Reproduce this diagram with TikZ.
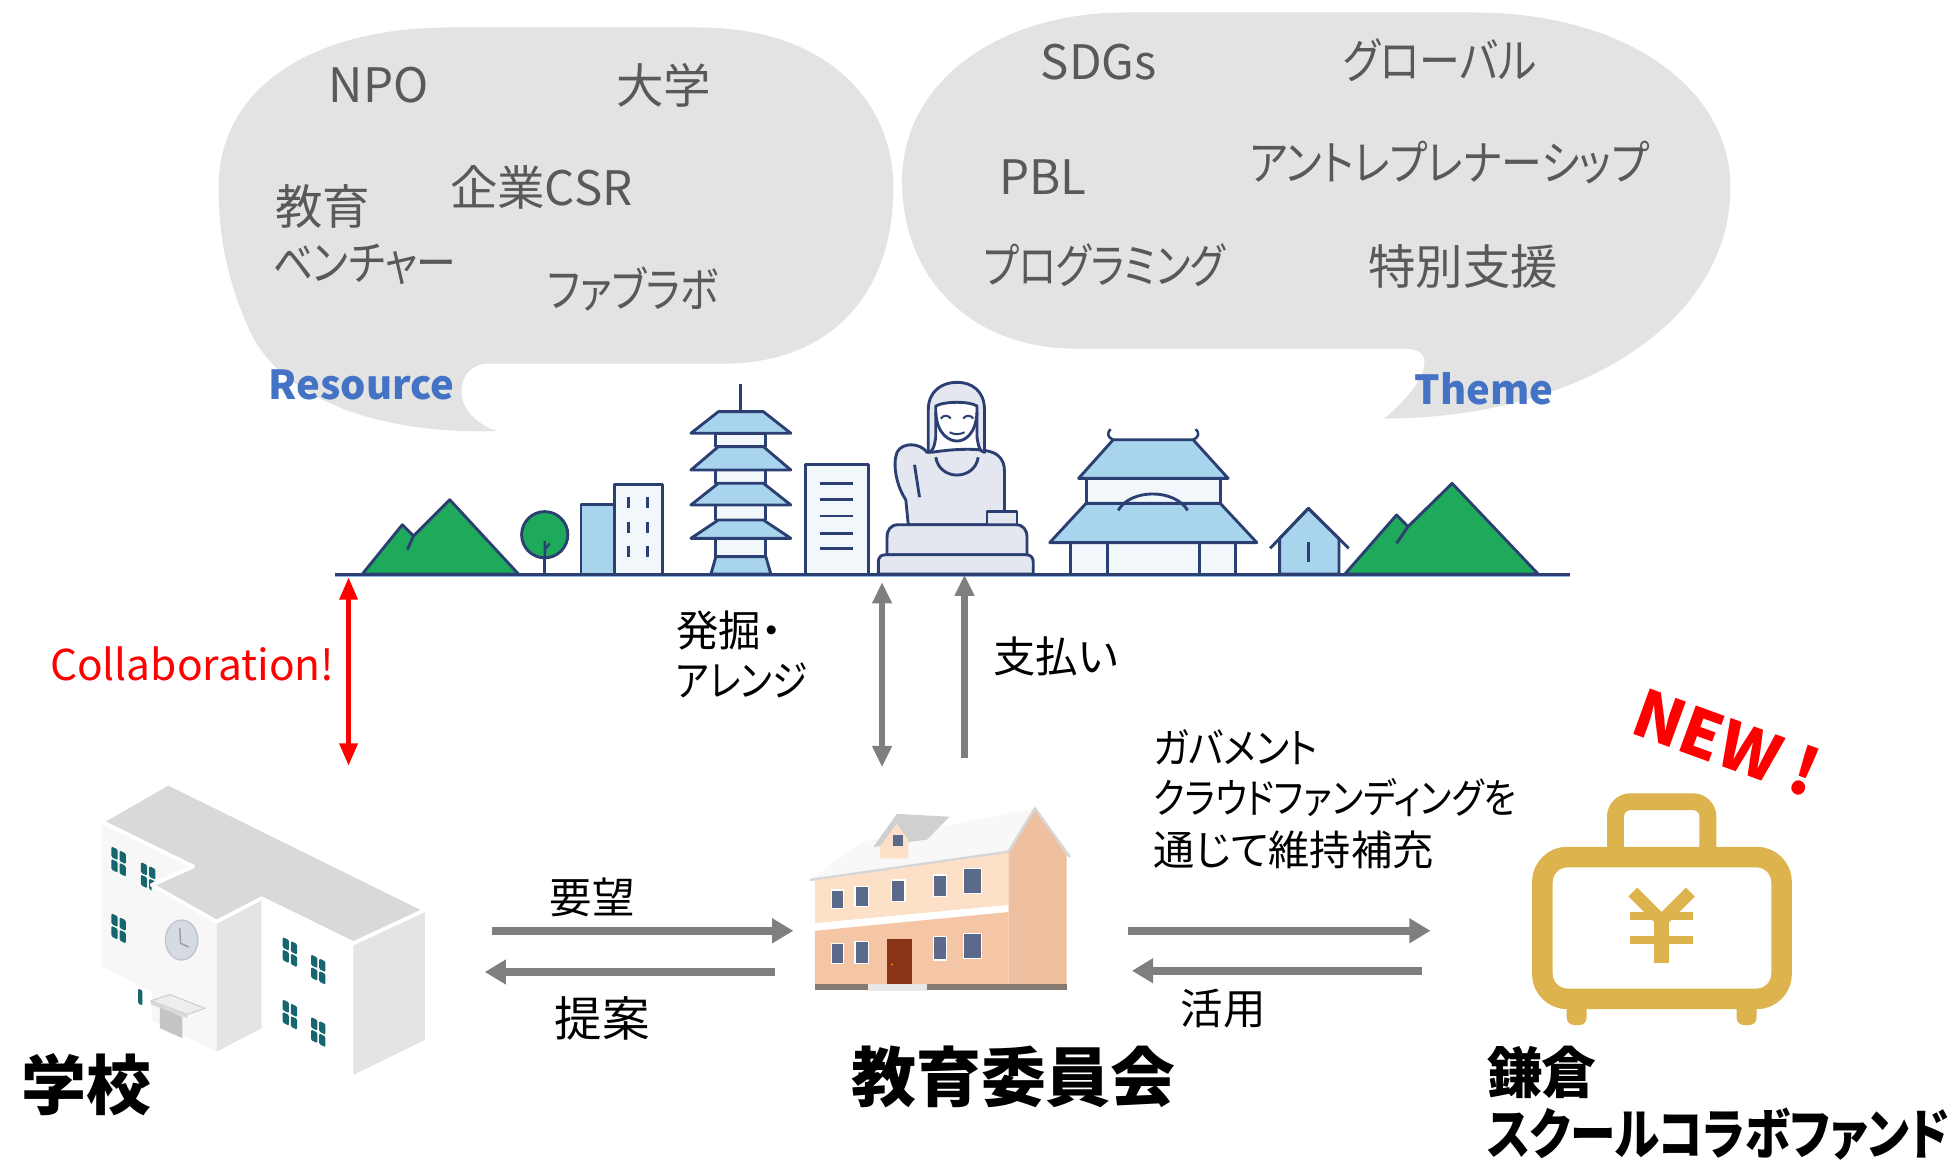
\documentclass[tikz,border=0pt]{standalone}
\usepackage{fontspec}
\usepackage{graphicx}
\usetikzlibrary{arrows.meta}
\newfontfamily\jp{Noto Sans CJK JP}[RawFeature=+palt]
% horizontally condensed text
\newcommand{\hsq}[2]{\scalebox{#1}[1]{#2}}
\definecolor{bubgray}{HTML}{E3E3E3}
\definecolor{bubtext}{HTML}{595959}
\definecolor{resblue}{HTML}{4472C4}
\definecolor{navy}{HTML}{2B3F73}
\definecolor{skyfill}{HTML}{A9D4EE}
\definecolor{paleblue}{HTML}{F2F7FC}
\definecolor{stone}{HTML}{E4E7F0}
\definecolor{hill}{HTML}{1EAA5A}
\definecolor{groundblue}{HTML}{8FB4E3}
\definecolor{arrowgray}{HTML}{7F7F7F}
\definecolor{gold}{HTML}{DDB34D}
\definecolor{winteal}{HTML}{17656F}
\definecolor{roofgray}{HTML}{D9D9D9}
\definecolor{sidegray}{HTML}{E4E4E4}
\definecolor{facewhite}{HTML}{F7F7F7}
\definecolor{clockface}{HTML}{D6DAE2}
\definecolor{clockrim}{HTML}{BEC4CE}
\definecolor{clockhand}{HTML}{969EAC}
\definecolor{doorgray}{HTML}{C4C4C4}
\definecolor{canopy}{HTML}{EEEEEE}
\definecolor{canopyedge}{HTML}{CDCDCD}
\definecolor{canopyfront}{HTML}{D7D7D7}
\definecolor{peachup}{HTML}{FCE0C8}
\definecolor{peachlow}{HTML}{F4C6A6}
\definecolor{peachside}{HTML}{EFC09F}
\definecolor{roofwhite}{HTML}{F8F8F8}
\definecolor{trimgray}{HTML}{D7D7D7}
\definecolor{dormerroof}{HTML}{D0D0D0}
\definecolor{slate}{HTML}{5B6A8A}
\definecolor{doorbrown}{HTML}{8A3417}
\definecolor{basegray}{HTML}{857A72}
\definecolor{steps}{HTML}{E8E8E8}
\begin{document}
\begin{tikzpicture}[x=1pt,y=-1pt,
  bubtxt/.style={anchor=west,inner sep=0pt,text=bubtext,font=\jp\fontsize{38}{40}\selectfont},
  tagtxt/.style={anchor=west,inner sep=0pt,text=resblue,font=\jp\bfseries\fontsize{32}{34}\selectfont},
  lbl/.style={anchor=west,inner sep=0pt,text=black,font=\jp\fontsize{34}{36}\selectfont},
  titletxt/.style={anchor=west,inner sep=0pt,text=black,font=\jp\bfseries\fontsize{52}{54}\selectfont},
  fundtxt/.style={anchor=west,inner sep=0pt,text=black,font=\jp\bfseries\fontsize{44}{46}\selectfont},
  outl/.style={draw=navy,line width=2.3pt,line join=round},
  flow/.style={draw=arrowgray,line width=6pt,-{Triangle[width=19pt,length=17pt]}},
  vflow/.style={draw=arrowgray,line width=5pt,-{Triangle[width=15pt,length=17pt]}},
  vflowboth/.style={draw=arrowgray,line width=5pt,{Triangle[width=15pt,length=17pt]}-{Triangle[width=15pt,length=17pt]}},
  collab/.style={draw=red,line width=4pt,{Triangle[width=14pt,length=18pt]}-{Triangle[width=14pt,length=18pt]}},
  schoolwin/.pic={
    \fill[winteal,rounded corners=1pt] (0,0) rectangle (5,8.5) (6.5,0) rectangle (11.5,8.5)
      (0,10) rectangle (5,18.5) (6.5,10) rectangle (11.5,18.5);
  }
]
\useasboundingbox (0,0) rectangle (1568,933);
\fill[white] (0,0) rectangle (1568,933);

% ---------- speech bubbles ----------
\fill[bubgray] (398,345) .. controls (300,348) and (225,318) .. (200,265)
  .. controls (182,225) and (175,190) .. (175,150)
  .. controls (175,70) and (250,22) .. (360,22) -- (560,22)
  .. controls (660,22) and (715,80) .. (715,150)
  .. controls (715,240) and (660,291) .. (580,291) -- (390,291)
  .. controls (370,292) and (366,312) .. (372,325)
  .. controls (378,336) and (390,343) .. (398,345) -- cycle;
\fill[bubgray] (1108,335) .. controls (1128,318) and (1142,300) .. (1140,287)
  .. controls (1139,282) and (1133,279) .. (1122,279) -- (860,279)
  .. controls (780,279) and (722,225) .. (722,145)
  .. controls (722,65) and (800,10) .. (900,10) -- (1180,10)
  .. controls (1300,10) and (1385,70) .. (1385,150)
  .. controls (1385,260) and (1260,335) .. (1108,335) -- cycle;

\node[bubtxt] (npo) at (263,68) {NPO};
\node[bubtxt] (univ) at (493,68) {大学};
\node[bubtxt] (edu) at (220,165) {教育};
\node[bubtxt] (csr) at (360,150) {企業CSR};
\node[bubtxt] (venture) at (218,212) {\hsq{0.84}{ベンチャー}};
\node[bubtxt] (fablab) at (438,231) {\hsq{0.83}{ファブラボ}};
\node[tagtxt] (resource) at (215,308) {Resource};

\node[bubtxt] (sdgs) at (833,50) {SDGs};
\node[bubtxt] (global) at (1075,48) {\hsq{0.86}{グローバル}};
\node[bubtxt] (pbl) at (800,142) {PBL};
\node[bubtxt] (entre) at (1000,130) {\hsq{0.86}{アントレプレナーシップ}};
\node[bubtxt] (prog) at (787,212) {\hsq{0.81}{プログラミング}};
\node[bubtxt] (special) at (1095,213) {特別支援};
\node[tagtxt] (theme) at (1132,311) {Theme};

% ---------- town skyline ----------
% left hills
\filldraw[outl,fill=hill] (290,459.5) -- (322,420) -- (331,429) -- (360,400) -- (415,459.5) -- cycle;
\draw[outl] (331,429) -- (326,440);
% tree
\filldraw[outl,fill=hill] (436,428) circle (18.5);
\draw[outl] (436,446.5) -- (436,459.5);
\draw[outl,line width=1.8pt] (436,446) -- (436,433) (436,440) -- (440,435);
% low blocks
\filldraw[outl,fill=skyfill] (465,404) rectangle (494,459.5);
\filldraw[outl,fill=paleblue] (492,388) rectangle (530,459.5);
\draw[outl] (503,398) -- (503,407) (518,398) -- (518,407)
            (503,418) -- (503,427) (518,418) -- (518,427)
            (503,437) -- (503,446) (518,437) -- (518,446);
% pagoda
\draw[outl] (593,307) -- (593,330);
\foreach \yt/\yb/\yn in {329.5/346.8/357.5, 357.5/376.2/386.8, 386.8/404.2/416.2, 416.2/430.9/445.6}{
  \filldraw[outl,fill=paleblue] (573,\yb) rectangle (613,\yn);
  \filldraw[outl,fill=skyfill] (575,\yt) -- (611,\yt) -- (633,\yb) -- (553,\yb) -- cycle;
}
\filldraw[outl,fill=skyfill] (573,445.6) -- (613,445.6) -- (617,459.5) -- (569,459.5) -- cycle;
% office block
\filldraw[outl,fill=paleblue] (645,372) rectangle (695,459.5);
\foreach \yy in {387,400,413,427,439}{ \draw[outl] (656,\yy) -- (683,\yy); }
% great buddha
\filldraw[outl,fill=stone] (727,420) -- (725,400) .. controls (718,390) and (714,372) .. (718,362)
  .. controls (722,354) and (736,354) .. (742,362) -- (746,362)
  .. controls (765,359) and (790,358) .. (798,364) .. controls (803,368) and (804,372) .. (804,378)
  -- (804,420) -- cycle;
\filldraw[outl,fill=stone] (743,362) -- (743,328) .. controls (743,313) and (754,306) .. (766,306)
  .. controls (778,306) and (788,313) .. (788,328) -- (788,362)
  .. controls (784,362) and (783,356) .. (782,350) -- (782,325)
  .. controls (776,321) and (756,321) .. (749,325) -- (749,350)
  .. controls (748,356) and (747,362) .. (743,362) -- cycle;
\draw[outl] (749,330) .. controls (750,348) and (760,353) .. (766,353) .. controls (772,353) and (781,348) .. (782,330);
\draw[outl,line width=1.6pt] (753,335) .. controls (755,332) and (759,332) .. (761,335)
  (771,335) .. controls (773,332) and (777,332) .. (779,335)
  (760,346) .. controls (764,348) and (768,348) .. (772,346);
\draw[outl] (749,366) .. controls (752,385) and (780,385) .. (783,366);
\draw[outl] (732,372) -- (736,398);
\filldraw[outl,fill=stone] (790,420) -- (790,409.5) -- (814,409.5) -- (814,420);
\filldraw[outl,fill=stone] (710,444) -- (710,430) .. controls (710,424) and (713,420) .. (719,420)
  -- (813,420) .. controls (819,420) and (822,424) .. (822,430) -- (822,444) -- cycle;
\filldraw[outl,fill=stone] (703,459.5) -- (703,450) .. controls (703,446) and (705,444) .. (709,444)
  -- (821,444) .. controls (825,444) and (827,446) .. (827,450) -- (827,459.5) -- cycle;
% temple hall
\draw[outl,line width=2pt] (891,352) .. controls (886,350) and (886,346) .. (889,343.5)
  (955,352) .. controls (960,350) and (960,346) .. (957,343.5);
\filldraw[outl,fill=paleblue] (869.3,382.9) rectangle (976.7,402.9);
\filldraw[outl,fill=skyfill] (891,352) -- (955,352) -- (983,382.9) -- (863.3,382.9) -- cycle;
\filldraw[outl,fill=paleblue] (857,434.3) rectangle (989,459.5);
\draw[outl] (886.3,434.3) -- (886.3,459.5) (959.8,434.3) -- (959.8,459.5);
\filldraw[outl,fill=skyfill] (869.3,402.9) -- (976.7,402.9) -- (1006,434.3) -- (840.2,434.3) -- cycle;
\draw[outl] (895,408.5) .. controls (905,391) and (940,391) .. (950.6,408.5);
% small house
\filldraw[outl,fill=skyfill] (1024.2,459.5) -- (1024.2,431) -- (1047.2,407) -- (1071.7,431) -- (1071.7,459.5) -- cycle;
\draw[outl] (1016.6,438.9) -- (1047.2,406.9) -- (1079.5,438.9);
\draw[outl] (1047.2,433.5) -- (1047.2,449.6);
% right hills
\filldraw[outl,fill=hill] (1076.4,459.5) -- (1117.8,412.2) -- (1127,421.5) -- (1162.3,386.9) -- (1231.2,459.5) -- cycle;
\draw[outl] (1127,421.5) -- (1117.8,434.9);
% ground line
\draw[groundblue,line width=1.6pt] (268,461.3) -- (1257,461.3);
\draw[navy,line width=2.3pt] (268,459.5) -- (1257,459.5);

% ---------- school ----------
\coordinate (sA) at (81.4,657.6);  \coordinate (sB) at (134.7,627);
\coordinate (sC) at (340.1,728.3); \coordinate (sD) at (282.8,755);
\coordinate (sE) at (209.4,719);   \coordinate (sF) at (173.4,737.7);
\coordinate (sG) at (121.4,708.3); \coordinate (sH) at (154.7,693.6);
\fill[facewhite] (sA) -- (sH) -- (sG) -- (121.4,793.3) -- (81.4,773.7) -- cycle;
\pic at (89.2,677.5) [yslant=-0.49] {schoolwin};
\pic at (112.8,690) [yslant=-0.49] {schoolwin};
\pic at (89.2,731) [yslant=-0.49] {schoolwin};
\fill[winteal,rounded corners=1pt,yslant=-0.49] (110.5,737) rectangle (114,749);
\fill[facewhite] (sG) -- (sF) -- (173.4,841.7) -- (121.4,816.4) -- cycle;
\fill[sidegray] (sF) -- (sE) -- (209.4,823) -- (173.4,841.7) -- cycle;
\fill[white] (sE) -- (sD) -- (282.8,860.4) -- (209.4,823) -- cycle;
\fill[sidegray] (sD) -- (sC) -- (340.1,832.3) -- (282.8,860.4) -- cycle;
\pic at (226.3,750) [yslant=-0.49] {schoolwin};
\pic at (249,764) [yslant=-0.49] {schoolwin};
\pic at (226.3,800) [yslant=-0.49] {schoolwin};
\pic at (249,814) [yslant=-0.49] {schoolwin};
\filldraw[fill=roofgray,draw=white,line width=3pt,line join=round]
  (sA) -- (sB) -- (sC) -- (sD) -- (sE) -- (sF) -- (sG) -- (sH) -- cycle;
% clock
\filldraw[fill=clockface,draw=clockrim,line width=1pt] (145.4,752.4) ellipse (13 and 16);
\draw[clockhand,line width=1.2pt] (144,743) -- (144.5,755) -- (151,758);
% entrance canopy and door
\fill[doorgray] (128,806) -- (146,814) -- (146,831) -- (128,823) -- cycle;
\filldraw[fill=canopy,draw=canopyedge,line width=0.8pt]
  (121,801) -- (136,796) -- (164,807) -- (150,812) -- cycle;
\fill[canopyfront] (121,801) -- (150,812) -- (150,815) -- (121,804) -- cycle;
\node[titletxt] (school) at (17,868) {学校};

% ---------- board of education ----------
\fill[peachside] (807.1,681.7) -- (828.4,647) -- (853.7,684.3) -- (853.7,787.6) -- (807.1,787.6) -- cycle;
\fill[peachup] (652.3,704.3) -- (807.1,681.7) -- (807.1,724.4) -- (652.3,739) -- cycle;
\fill[white] (652.3,739) -- (807.1,724.4) -- (807.1,730) -- (652.3,745) -- cycle;
\fill[peachlow] (652.3,745) -- (807.1,730) -- (807.1,787.6) -- (652.3,787.6) -- cycle;
\fill[roofwhite] (648.3,704.3) -- (690,674) -- (828.4,647) -- (807.1,681.7) -- cycle;
\draw[trimgray,line width=2pt,line join=round] (648.3,704.3) -- (807.1,681.7) -- (828.4,647) -- (856.4,686);
\fill[dormerroof] (699,678) -- (717.7,651.5) -- (760,653.7) -- (742,672) -- cycle;
\fill[peachup] (704.3,687) -- (704.3,677.7) -- (717.7,659.5) -- (727,672) -- (727,687) -- cycle;
\fill[slate] (714.5,668.5) rectangle (722.5,677.5);
\foreach \xa/\ya/\xb/\yb in {665.7/712.3/675/727, 684.3/709.6/695/725.7, 713.7/704.3/724.4/721.7,
    747/700.3/757.7/717.7, 771/695/785.7/715, 665.7/755/675/771, 684.3/753.6/695/771,
    747/749.7/757.7/768.4, 771/747/785.7/767}{
  \filldraw[fill=slate,draw=white,line width=1pt] (\xa,\ya) rectangle (\xb,\yb);
}
\fill[doorbrown] (709.7,751.8) rectangle (729.7,787.6);
\fill[orange] (714,772) circle (0.9);
\fill[basegray] (652.3,787.6) rectangle (853.7,792.6);
\fill[steps] (695,787.6) rectangle (741.7,793);
\node[titletxt] (board) at (681,862) {教育委員会};

% ---------- collabo fund ----------
\draw[gold,line width=13.5pt,rounded corners=12pt] (1293,684) -- (1293,641.7) -- (1367,641.7) -- (1367,684);
\draw[gold,line width=16.5pt,rounded corners=20pt] (1234.5,686) rectangle (1426,799.5);
\fill[gold,rounded corners=6pt] (1254,800) rectangle (1270,820.5) (1390,800) rectangle (1406,820.5);
\draw[gold,line width=10pt,line join=miter] (1307,714) -- (1330,737) -- (1353,714);
\draw[gold,line width=6.5pt] (1305,733.5) -- (1355,733.5) (1305,752.5) -- (1355,752.5);
\draw[gold,line width=12pt] (1330,735) -- (1330,771);
\node[fundtxt] (kamakura) at (1190,858) {鎌倉};
\node[fundtxt] (fund) at (1190,908) {\hsq{0.83}{スクールコラボファンド}};
\node[inner sep=0pt,text=red,rotate=-20,font=\jp\bfseries\fontsize{52}{54}\selectfont] (newtag) at (1382,594) {NEW !};

% ---------- connectors ----------
\coordinate (cTop) at (279,462);  \coordinate (cBot) at (279,613);
\draw[collab] (cTop) -- (cBot);
\node[anchor=east,inner sep=0pt,text=red,font=\jp\fontsize{34}{36}\selectfont] (collabtxt) at (268,531) {Collaboration!};

\coordinate (dTop) at (706,466); \coordinate (dBot) at (706,614);
\draw[vflowboth] (dTop) -- (dBot);
\node[lbl] (find1) at (541,505) {発掘・};
\node[lbl] (find2) at (541,545) {\hsq{0.84}{アレンジ}};

\coordinate (pBot) at (772,607); \coordinate (pTop) at (772,460);
\draw[vflow] (pBot) -- (pTop);
\node[lbl] (pay) at (795,525) {支払い};

\coordinate (reqS) at (394,745); \coordinate (reqE) at (635,745);
\draw[flow] (reqS) -- (reqE);
\node[lbl] (req) at (440,718) {要望};
\coordinate (propS) at (620,778); \coordinate (propE) at (388,778);
\draw[flow] (propS) -- (propE);
\node[lbl,font=\jp\fontsize{38}{40}\selectfont] (prop) at (444,815) {提案};

\coordinate (supS) at (903,745); \coordinate (supE) at (1145,745);
\draw[flow] (supS) -- (supE);
\coordinate (useS) at (1138,777); \coordinate (useE) at (906,777);
\draw[flow] (useS) -- (useE);
\node[lbl] (use) at (945,807) {活用};
\node[lbl,font=\jp\fontsize{33}{35}\selectfont] (gov1) at (923,598) {\hsq{0.9}{ガバメント}};
\node[lbl,font=\jp\fontsize{33}{35}\selectfont] (gov2) at (923,638) {\hsq{0.85}{クラウドファンディングを}};
\node[lbl,font=\jp\fontsize{33}{35}\selectfont] (gov3) at (923,680) {通じて維持補充};
\end{tikzpicture}
\end{document}
